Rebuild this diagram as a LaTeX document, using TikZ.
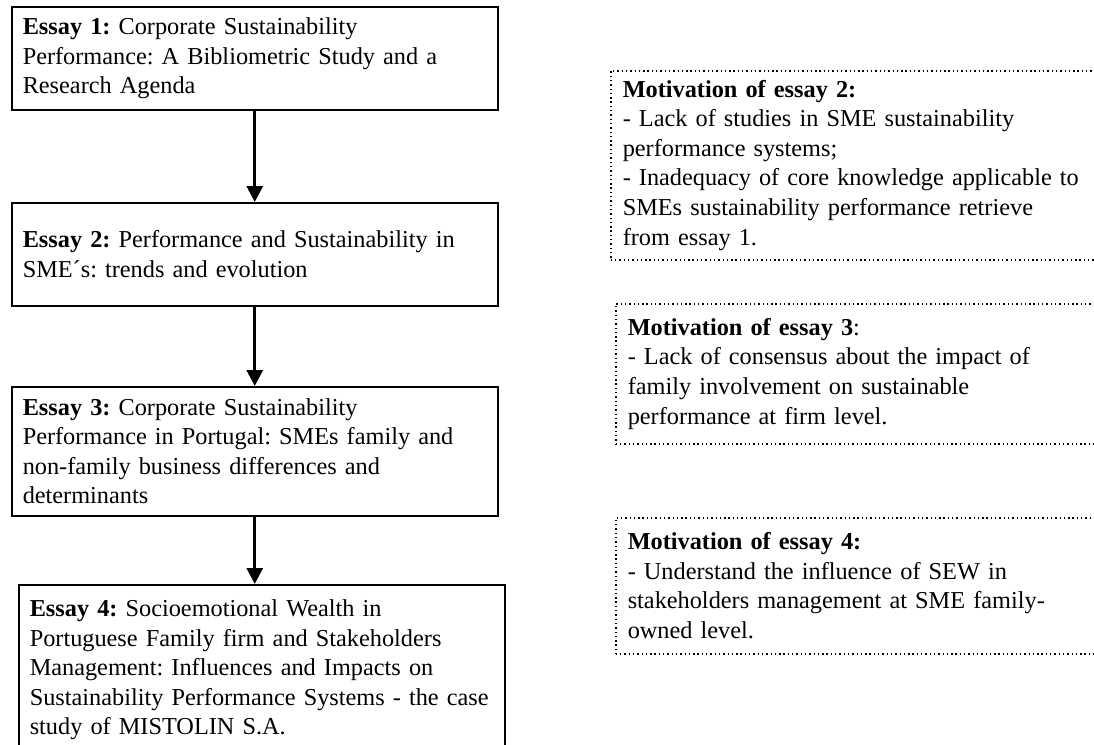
\documentclass[tikz,border=0pt]{standalone}
\usepackage{fontspec}
\setmainfont{Liberation Serif}
\usetikzlibrary{arrows.meta}
\frenchspacing
\begin{document}
\begin{tikzpicture}[x=1pt,y=-1pt,
  essay/.style={draw=black, line width=1.5pt, rectangle, inner xsep=11pt, inner ysep=0pt,
    text width=464pt, align=left, minimum height=#1, anchor=north west,
    font=\fontsize{24.3}{29.5}\selectfont\frenchspacing},
  motiv/.style={draw=black, line width=1.5pt, dash pattern=on 1.4pt off 2.9pt, rectangle,
    inner xsep=12pt, inner ysep=0pt, text width=466pt, align=left, minimum height=#1,
    anchor=north west, font=\fontsize{24.3}{29.6}\selectfont\frenchspacing},
  flow/.style={line width=3pt, -{Triangle[width=16pt,length=16pt]}}
]
\useasboundingbox (0,0) rectangle (1094,744);

\node[essay=103pt] (e1) at (11,6) {\textbf{Essay 1:} Corporate Sustainability\\Performance: A Bibliometric Study and a\\Research Agenda};
\node[essay=103pt] (e2) at (11,202) {\textbf{Essay 2:} Performance and Sustainability in\\SME´s: trends and evolution};
\node[essay=129pt] (e3) at (11,386) {\textbf{Essay 3:} Corporate Sustainability\\Performance in Portugal: SMEs family and\\non-family business differences and\\determinants};
\node[essay=170pt] (e4) at (18,584) {\textbf{Essay 4:} Socioemotional Wealth in\\Portuguese Family firm and Stakeholders\\Management: Influences and Impacts on\\Sustainability Performance Systems - the case\\study of MISTOLIN S.A.};

\draw[flow] (e1.south) -- (e2.north);
\draw[flow] (e2.south) -- (e3.north);
\draw[flow] (e3.south) -- (e3.south |- e4.north);

\node[motiv=189pt] (m2) at (610,70) {\textbf{Motivation of essay 2:}\\- Lack of studies in SME sustainability\\performance systems;\\- Inadequacy of core knowledge applicable to\\SMEs sustainability performance retrieve\\from essay 1.};
\node[motiv=140pt] (m3) at (615,303) {\textbf{Motivation of essay 3}:\\- Lack of consensus about the impact of\\family involvement on sustainable\\performance at firm level.};
\node[motiv=136pt] (m4) at (615,517) {\textbf{Motivation of essay 4:}\\- Understand the influence of SEW in\\stakeholders management at SME family-\\owned level.};
\end{tikzpicture}
\end{document}
